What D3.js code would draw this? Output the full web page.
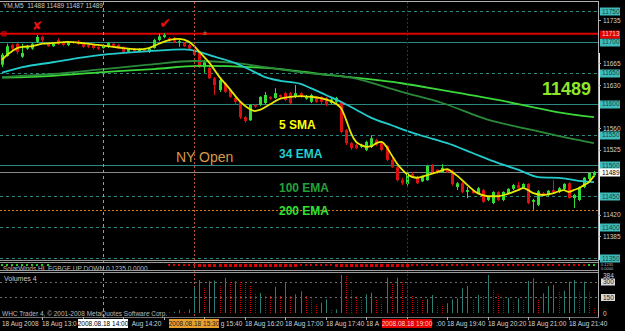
<!DOCTYPE html>
<html>
<head>
<meta charset="utf-8">
<script src="https://cdn.jsdelivr.net/npm/d3@7"></script>
<style>
  html, body { margin: 0; padding: 0; background: #000; }
  svg { display: block; font-family: "Liberation Sans", Arial, sans-serif; }
</style>
</head>
<body>
<div id="chart"></div>
<script>
// ---- data (YM, M5, 18 Aug 2008) ----
const headerText = 'YM,M5  11488 11489 11487 11489';
const startTime = new Date(2008, 7, 18, 12, 20);

const opens = [11663,11677,11695,11697,11676,11689,11689,11700,11708,11697,11693,11703,11698,11695,11700,11700,11698,11695,11695,11692,
  11690,11692,11697,11695,11692,11684,11689,11685,11687,11684,11690,11703,11708,11706,11706,11700,11698,11695,11687,11684,
  11659,11658,11641,11622,11633,11622,11609,11603,11578,11573,11598,11598,11601,11611,11609,11614,11617,11617,11611,11617,
  11608,11603,11611,11611,11609,11601,11603,11603,11557,11536,11533,11530,11525,11530,11541,11536,11531,11509,11497,11476,
  11470,11486,11480,11474,11476,11499,11493,11489,11493,11491,11465,11471,11457,11460,11455,11460,11444,11439,11457,11444,
  11455,11462,11468,11463,11470,11441,11436,11455,11452,11460,11457,11462,11471,11447,11444,11465,11478,11484];
const highs = [11682,11697,11697,11698,11697,11695,11698,11711,11710,11698,11698,11706,11700,11701,11701,11703,11700,11697,11697,11693,
  11695,11700,11698,11697,11693,11690,11690,11690,11689,11690,11705,11713,11714,11708,11708,11705,11700,11697,11689,11685,
  11671,11661,11643,11640,11635,11624,11611,11604,11580,11599,11599,11612,11619,11612,11625,11615,11619,11619,11630,11619,
  11614,11616,11612,11612,11611,11609,11611,11604,11559,11538,11535,11535,11540,11549,11543,11538,11533,11512,11499,11480,
  11489,11489,11483,11484,11501,11502,11494,11502,11494,11493,11473,11473,11465,11462,11465,11462,11450,11458,11458,11458,
  11463,11470,11473,11471,11471,11446,11460,11457,11460,11476,11465,11471,11473,11454,11466,11481,11489,11491];
const lows = [11659,11676,11687,11680,11674,11687,11687,11698,11700,11692,11692,11695,11693,11693,11697,11695,11690,11690,11688,11687,
  11689,11690,11690,11689,11682,11682,11684,11684,11684,11682,11689,11701,11706,11700,11698,11692,11692,11687,11677,11658,
  11650,11640,11614,11619,11617,11609,11599,11575,11569,11572,11593,11596,11599,11606,11608,11609,11604,11599,11609,11609,
  11606,11601,11601,11599,11596,11599,11601,11552,11533,11525,11526,11528,11523,11528,11531,11523,11507,11496,11474,11468,
  11467,11481,11470,11473,11475,11488,11486,11488,11488,11467,11460,11455,11447,11454,11454,11439,11442,11437,11442,11442,
  11454,11460,11462,11462,11437,11428,11434,11450,11450,11455,11455,11460,11446,11431,11442,11463,11476,11481];
const closes = [11679,11693,11689,11684,11682,11693,11697,11708,11703,11693,11697,11697,11695,11700,11698,11697,11692,11692,11690,11689,
  11693,11698,11692,11690,11684,11689,11685,11689,11685,11689,11703,11709,11711,11701,11700,11701,11693,11689,11679,11659,
  11667,11641,11630,11638,11619,11611,11603,11578,11572,11598,11595,11611,11614,11608,11617,11611,11606,11601,11617,11611,
  11612,11614,11603,11603,11598,11607,11609,11554,11536,11528,11528,11533,11538,11544,11533,11525,11509,11497,11476,11471,
  11488,11483,11471,11483,11499,11489,11489,11496,11489,11470,11471,11457,11460,11455,11463,11441,11449,11457,11444,11457,
  11462,11468,11463,11470,11439,11444,11458,11452,11459,11457,11463,11470,11447,11452,11465,11480,11488,11489];
const volumes = [3,5,2,4,6,3,2,5,8,3,2,4,3,2,5,3,2,4,3,6,2,3,4,2,5,3,2,4,3,5,6,8,4,
  5,13,29,13,36,250,319,242,310,315,261,339,303,308,300,278,271,185,194,180,175,252,165,300,161,181,
  210,170,140,80,100,132,29,35,368,360,232,158,132,181,197,132,94,342,287,342,297,290,168,142,126,135,
  174,77,70,94,132,142,239,261,132,174,165,368,223,187,142,150,119,142,126,310,335,132,190,261,271,206,
  216,303,319,206,303,206,45];
// signal row of the small indicator window: +1 up, -1 / -2 down, 0 none
const signal = [1,1,1,1,1,1,1,1,1,1, 0,0,0,0,0,0,0,0,0,0, 0,0,0,0,0,0,0,0,0,0, 0,0,0,
  -1,-1,-1,-1,-1,-1, -2,-2,-2,-2,-2,-2,-2,-2,-2,-2,-2,-2,-2,-2,-2,-2,-2,-2,-2,-2,
  -1,-1,-1,-1,-1,-1,-1, -2,-2,-2,-2,-2,-2,-2,-2,-2,-2,-2,-2,-2,-2,-2,
  -1,-1,-1,-1,-1,-1,-1,-1,-1,-1,-1,-1,-1,-1,-1,-1,-1,-1,-1,-1,-1,-1,-1,-1,-1,-1,-1,-1,-1,-1,-1,-1,-1,-1,-1, 1,1];

// moving averages as [bar, price]
const sma5 = [[0,11671],[1,11679],[2,11685],[3,11690],[4,11692],[6,11693],[8,11697],[10,11698],[13,11700],[16,11698],
  [19,11695],[22,11692],[24,11690],[27,11688],[29,11690],[31,11697],[33,11703],[35,11705],[37,11700],[38,11693],
  [39,11684],[41,11666],[43,11643],[45,11624],[47,11604],[49,11591],[50,11588],[51,11590],[53,11599],[55,11608],
  [57,11611],[59,11612],[61,11611],[63,11609],[65,11604],[67,11593],[68,11574],[69,11552],[70,11538],[71,11533],
  [72,11530],[73,11531],[74,11536],[75,11538],[76,11530],[77,11517],[78,11504],[79,11494],[80,11486],[82,11480],
  [84,11484],[86,11489],[88,11494],[89,11489],[90,11483],[92,11468],[94,11455],[96,11450],[98,11450],[100,11454],
  [102,11460],[103,11463],[104,11460],[105,11455],[107,11452],[109,11455],[111,11460],[112,11457],[113,11460],
  [114,11463],[115,11468],[116,11473],[117,11483]];
const ema34 = [[0,11650],[4,11659],[10,11667],[16,11675],[21,11680],[29,11685],[36,11688],[39,11684],[42,11676],
  [46,11666],[49,11655],[52,11643],[55,11637],[59,11632],[61,11625],[64,11614],[67,11603],[70,11590],[73,11577],
  [77,11565],[80,11556],[83,11548],[88,11536],[93,11520],[98,11504],[102,11493],[106,11481],[111,11479],[114,11475],[117,11473]];
const ema100 = [[0,11643],[10,11648],[19,11655],[29,11663],[38,11669],[46,11666],[52,11659],[59,11651],[69,11642],
  [79,11619],[87,11601],[96,11574],[105,11557],[112,11544],[117,11536]];
const ema200 = [[0,11642],[10,11645],[20,11651],[30,11656],[39,11661],[52,11658],[65,11646],[79,11633],[87,11622],
  [98,11606],[110,11586],[117,11578]];

const solidLevels = [11700, 11600, 11500];
const dashedLevels = [11750, 11650, 11550, 11450, 11400, 11350];
const gridLevels = [11735, 11665, 11630, 11560, 11525, 11420, 11385];
const resistanceLevel = 11713;
const supportLevel = 11427;
const lastPrice = 11489;
const volTicks = [384, 300, 150, 0];
const timeTicks = ['13:00','13:40','14:20','15:00','15:40','16:20','17:00','17:40','18:20','19:00','19:40','20:20','21:00','21:40'];
const markTimes = [['14:00', 'grey'], ['15:30', 'orange'], ['19:00', 'red']];
const maLabels = [['5 SMA', 11559], ['34 EMA', 11512], ['100 EMA', 11457], ['200 EMA', 11420]];

// ---- layout ----
const width = 625, height = 331;
const plotRight = 598;
const mainTop = 2, mainBottom = 260;

const barTime = i => new Date(startTime.getTime() + i * 5 * 60000);
const atTime = s => { const p = s.split(':'); return new Date(2008, 7, 18, +p[0], +p[1]); };

const x = d3.scaleTime()
  .domain([startTime, barTime(118)])
  .range([2, 599]);
const y = d3.scaleLinear().domain([11350, 11750]).range([258, 11]);
const yVol = d3.scaleLinear().domain([0, 384]).range([313, 273.3]);
const cx = i => Math.round(x(barTime(i)));

const svg = d3.select('#chart').append('svg')
  .attr('width', width).attr('height', height);
svg.append('rect').attr('width', width).attr('height', height).attr('fill', '#000');

const defs = svg.append('defs');
defs.append('clipPath').attr('id', 'clipMain').append('rect')
  .attr('x', 0).attr('y', mainTop).attr('width', plotRight).attr('height', mainBottom - mainTop);
defs.append('clipPath').attr('id', 'clipInd').append('rect')
  .attr('x', 0).attr('y', 263).attr('width', plotRight).attr('height', 7);

const main = svg.append('g').attr('clip-path', 'url(#clipMain)');

// horizontal user lines
main.selectAll('.hsolid').data(solidLevels).enter().append('line')
  .attr('x1', 0).attr('x2', plotRight)
  .attr('y1', d => Math.round(y(d)) + 0.5).attr('y2', d => Math.round(y(d)) + 0.5)
  .attr('stroke', '#2b8a80').attr('stroke-width', 1);
main.selectAll('.hdash').data(dashedLevels).enter().append('line')
  .attr('x1', 0).attr('x2', plotRight)
  .attr('y1', d => Math.round(y(d)) + 0.5).attr('y2', d => Math.round(y(d)) + 0.5)
  .attr('stroke', '#2b8a80').attr('stroke-width', 1).attr('stroke-dasharray', '3,3');
main.append('line')
  .attr('x1', 0).attr('x2', plotRight)
  .attr('y1', Math.round(y(supportLevel)) + 0.5).attr('y2', Math.round(y(supportLevel)) + 0.5)
  .attr('stroke', '#d07a20').attr('stroke-dasharray', '2,2');
main.append('line')
  .attr('x1', 0).attr('x2', plotRight)
  .attr('y1', Math.round(y(lastPrice)) + 0.5).attr('y2', Math.round(y(lastPrice)) + 0.5)
  .attr('stroke', '#8a8a8a');

// vertical time markers across all windows
const markColor = { grey: '#9a9a9a', orange: '#b8503a', red: '#a80000' };
svg.selectAll('.vmark').data(markTimes).enter().append('line')
  .attr('x1', d => Math.round(x(atTime(d[0]))) + 0.5)
  .attr('x2', d => Math.round(x(atTime(d[0]))) + 0.5)
  .attr('y1', mainTop).attr('y2', 317)
  .attr('stroke', d => markColor[d[1]])
  .attr('stroke-dasharray', d => d[1] === 'grey' ? '3,3' : '2,2');

// resistance line
main.append('line')
  .attr('x1', 0).attr('x2', plotRight)
  .attr('y1', y(resistanceLevel)).attr('y2', y(resistanceLevel))
  .attr('stroke', '#e00000').attr('stroke-width', 2);
main.append('rect').attr('x', 2).attr('y', y(resistanceLevel) - 2).attr('width', 4).attr('height', 4)
  .attr('fill', 'none').attr('stroke', '#e00000');
main.append('text').attr('x', 205).attr('y', y(resistanceLevel) + 1)
  .attr('fill', '#d08050').attr('font-size', 7).attr('text-anchor', 'middle').text('±');

// moving averages
const maLine = d3.line()
  .x(d => x(barTime(d[0])))
  .y(d => y(d[1]))
  .curve(d3.curveMonotoneX);
const maSeries = [[ema200, '#3ad83a'], [ema100, '#2b8a3a'], [ema34, '#22cccc'], [sma5, '#e8e800']];

// candles
const idx = d3.range(opens.length);
main.selectAll('.wick').data(idx).enter().append('line')
  .attr('x1', i => cx(i) + 0.5).attr('x2', i => cx(i) + 0.5)
  .attr('y1', i => y(highs[i])).attr('y2', i => y(lows[i]))
  .attr('stroke', i => closes[i] >= opens[i] ? '#33dd33' : '#dd1010');
main.selectAll('.body').data(idx).enter().append('rect')
  .attr('x', i => cx(i) - 1)
  .attr('y', i => y(Math.max(opens[i], closes[i])))
  .attr('width', 3)
  .attr('height', i => Math.max(1, Math.abs(y(opens[i]) - y(closes[i]))))
  .attr('fill', i => closes[i] >= opens[i] ? '#33dd33' : '#dd1010');

maSeries.forEach(s => {
  main.append('path').datum(s[0])
    .attr('d', maLine)
    .attr('fill', 'none')
    .attr('stroke', s[1])
    .attr('stroke-width', 1.8);
});

// annotations
const maLabelColor = ['#ffff00', '#22d0d0', '#23a23a', '#33e033'];
main.selectAll('.malabel').data(maLabels).enter().append('text')
  .attr('x', 279).attr('y', d => y(d[1]))
  .attr('fill', (d, i) => maLabelColor[i])
  .attr('font-size', 12).attr('font-weight', 'bold')
  .text(d => d[0]);
main.append('text').attr('x', 176).attr('y', 162)
  .attr('fill', '#d89a48').attr('font-size', 14).text('NY Open');
main.append('text').attr('x', 591).attr('y', 95).attr('text-anchor', 'end')
  .attr('fill', '#8ee62a').attr('font-size', 18).attr('font-weight', 'bold')
  .text(d3.format('d')(lastPrice));
main.append('text').attr('x', 37).attr('y', 30).attr('text-anchor', 'middle')
  .attr('fill', '#e81010').attr('font-size', 12).attr('font-family', 'DejaVu Sans').text('✘');
main.append('text').attr('x', 165).attr('y', 28).attr('text-anchor', 'middle')
  .attr('fill', '#e81010').attr('font-size', 14).attr('font-family', 'DejaVu Sans').text('✔');
svg.append('text').attr('x', 3).attr('y', 8)
  .attr('fill', '#c8c8c8').attr('font-size', 6.5).attr('xml:space', 'preserve').text(headerText);

// window borders
svg.append('line').attr('x1', 0).attr('x2', plotRight).attr('y1', 1.5).attr('y2', 1.5).attr('stroke', '#b0b0b0');
[260.5, 262.5, 270.5, 272.5].forEach(v => {
  svg.append('line').attr('x1', 0).attr('x2', plotRight + 1).attr('y1', v).attr('y2', v)
    .attr('stroke', v % 2 < 1 ? '#9a9a9a' : '#5a5a5a');
});
svg.append('line').attr('x1', plotRight + 0.5).attr('x2', plotRight + 0.5).attr('y1', 1).attr('y2', 318)
  .attr('stroke', '#b0b0b0');
svg.append('line').attr('x1', plotRight + 1.5).attr('x2', plotRight + 1.5).attr('y1', 53).attr('y2', 260)
  .attr('stroke', '#e8e8e8');
svg.append('line').attr('x1', 0).attr('x2', plotRight + 1).attr('y1', 317.5).attr('y2', 317.5).attr('stroke', '#707070');

// indicator window
const ind = svg.append('g').attr('clip-path', 'url(#clipInd)');
ind.selectAll('rect').data(idx.filter(i => signal[i] !== 0)).enter().append('rect')
  .attr('x', i => cx(i) - 1).attr('y', 264)
  .attr('width', i => Math.abs(signal[i]) > 1 ? 3 : 2)
  .attr('height', i => Math.abs(signal[i]) > 1 ? 3 : 2)
  .attr('fill', i => signal[i] > 0 ? '#22cc22' : '#dd0000');
ind.append('text').attr('x', 3).attr('y', 270.5)
  .attr('fill', '#bdbdbd').attr('font-size', 6.5)
  .text('SolarWinds HL EGBGE UP DOWN 0.1235 0.0000');
svg.append('text').attr('x', 601).attr('y', 265.5).attr('fill', '#bdbdbd').attr('font-size', 4).text('0.1235');
svg.append('text').attr('x', 601).attr('y', 269.5).attr('fill', '#bdbdbd').attr('font-size', 4).text('0.0000');

// volume window
svg.selectAll('.vgrid').data([300, 150]).enter().append('line')
  .attr('x1', 0).attr('x2', plotRight)
  .attr('y1', d => Math.round(yVol(d)) + 0.5).attr('y2', d => Math.round(yVol(d)) + 0.5)
  .attr('stroke', '#6a6a6a').attr('stroke-dasharray', '2,3');
svg.selectAll('.vol').data(idx).enter().append('line')
  .attr('x1', i => cx(i) + 0.5).attr('x2', i => cx(i) + 0.5)
  .attr('y1', yVol(0)).attr('y2', i => yVol(volumes[i]))
  .attr('stroke', i => i > 0 && volumes[i] > volumes[i - 1] ? '#2c7d72' : '#d00000')
  .attr('stroke-dasharray', i => i > 0 && volumes[i] > volumes[i - 1] ? null : '1,1');
svg.append('text').attr('x', 4).attr('y', 281).attr('fill', '#c8c8c8').attr('font-size', 7).text('Volumes 4');
svg.append('text').attr('x', 2).attr('y', 316).attr('fill', '#b8b8b8').attr('font-size', 6.5)
  .text('WHC Trader 4, © 2001-2008 MetaQuotes Software Corp.');
volTicks.forEach(v => {
  const boxed = v === 300 || v === 150;
  if (boxed) {
    svg.append('rect').attr('x', 601).attr('y', yVol(v) - 3.5).attr('width', 14).attr('height', 7)
      .attr('fill', '#d8d8d8');
  }
  svg.append('text').attr('x', 603).attr('y', v === 384 ? 277.5 : yVol(v) + 2.5)
    .attr('fill', boxed ? '#202020' : '#d0d0d0').attr('font-size', 6.5).text(v);
});

// price axis
const axis = svg.append('g');
gridLevels.forEach(p => {
  axis.append('line').attr('x1', plotRight).attr('x2', plotRight + 3)
    .attr('y1', Math.round(y(p)) + 0.5).attr('y2', Math.round(y(p)) + 0.5).attr('stroke', '#b0b0b0');
  axis.append('text').attr('x', 603).attr('y', y(p) + 2.5)
    .attr('fill', '#d0d0d0').attr('font-size', 6.5).text(p);
});
function priceTag(p, bg, fg) {
  axis.append('rect').attr('x', 600).attr('y', Math.round(y(p)) - 3.5).attr('width', 20).attr('height', 8).attr('fill', bg);
  axis.append('text').attr('x', 602).attr('y', y(p) + 2.5).attr('fill', fg).attr('font-size', 6.5).text(p);
}
solidLevels.concat(dashedLevels).forEach(p => priceTag(p, '#3cbcbc', '#1c4444'));
priceTag(resistanceLevel, '#e00000', '#ffd0d0');
priceTag(lastPrice, '#ffffff', '#000000');

// time axis: labels are cut where the highlighted date boxes sit on top of them
const fmtDay = d3.timeFormat('%d %b %H:%M');
const fmtFull = d3.timeFormat('%Y.%m.%d %H:%M');
const boxes = markTimes.map(m => {
  const tx = Math.round(x(atTime(m[0])));
  return [tx - 25, tx + 25];
});
const probe = svg.append('text').attr('font-size', 6.5).attr('x', 0).attr('y', -20);
const textW = s => { probe.text(s); return probe.node().getComputedTextLength(); };

function timeLabel(tx, s) {
  const pieces = [[tx, s]];
  boxes.forEach(b => {
    for (let k = pieces.length - 1; k >= 0; k--) {
      const [px, ps] = pieces[k];
      const pw = textW(ps);
      if (px + pw <= b[0] || px >= b[1]) continue;
      const out = [];
      let left = ps;
      while (left.length && px + textW(left) > b[0] - 1) left = left.slice(0, -1);
      if (left.trim().length > 2) out.push([px, left]);
      let n = 0;
      while (n < ps.length && px + textW(ps.slice(0, n)) < b[1] + 1) n++;
      const right = ps.slice(n);
      if (right.trim().length > 2) out.push([px + textW(ps.slice(0, n)), right]);
      pieces.splice(k, 1, ...out);
    }
  });
  pieces.forEach(p => {
    svg.append('text').attr('x', p[0]).attr('y', 326).attr('fill', '#d0d0d0')
      .attr('font-size', 6.5).attr('xml:space', 'preserve').text(p[1]);
  });
}
timeLabel(2, '18 Aug 2008');
timeTicks.forEach(t => {
  const tx = Math.round(x(atTime(t)));
  svg.append('line').attr('x1', tx + 0.5).attr('x2', tx + 0.5).attr('y1', 317).attr('y2', 320).attr('stroke', '#b0b0b0');
  timeLabel(tx, fmtDay(atTime(t)));
});
probe.remove();
const tagColor = { grey: ['#ffffff', '#000000'], orange: ['#e8a030', '#202020'], red: ['#e00000', '#ffd0d0'] };
markTimes.forEach(m => {
  const tx = Math.round(x(atTime(m[0])));
  svg.append('rect').attr('x', tx - 25).attr('y', 319).attr('width', 50).attr('height', 9).attr('fill', tagColor[m[1]][0]);
  svg.append('text').attr('x', tx).attr('y', 326).attr('text-anchor', 'middle')
    .attr('fill', tagColor[m[1]][1]).attr('font-size', 6.5).text(fmtFull(atTime(m[0])));
});
</script>
</body>
</html>
